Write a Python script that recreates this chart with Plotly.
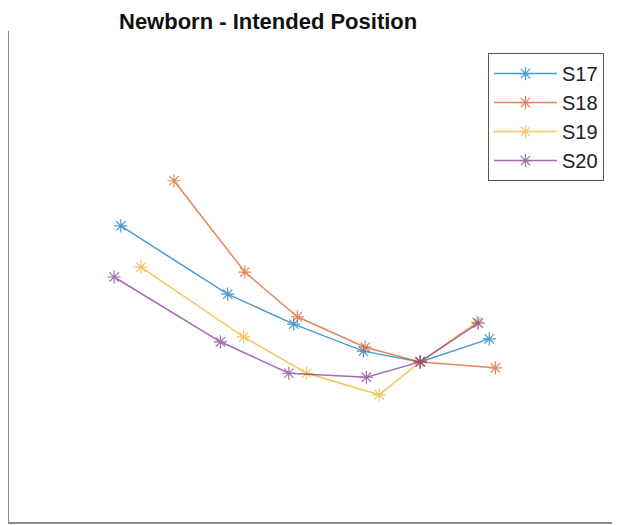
import plotly.graph_objects as go

series_names = ["S17", "S18", "S19", "S20"]
s17_x = [18.3, 35.8, 46.6, 58.0, 67.3, 78.6]
s17_y = [60.3, 46.4, 40.3, 34.8, 32.6, 37.3]
s18_x = [27.0, 38.6, 47.2, 58.3, 67.3, 79.6]
s18_y = [69.5, 50.9, 41.8, 35.6, 32.6, 31.4]
s19_x = [21.6, 38.4, 48.7, 60.6, 67.3, 76.6]
s19_y = [51.9, 37.7, 30.3, 25.9, 32.6, 40.7]
s20_x = [17.2, 34.6, 45.8, 58.5, 67.3, 76.8]
s20_y = [49.9, 36.7, 30.3, 29.5, 32.6, 40.5]

xs = [s17_x, s18_x, s19_x, s20_x]
ys = [s17_y, s18_y, s19_y, s20_y]
colors = ["#0072BD", "#D95319", "#EDB120", "#7E2F8E"]

fig = go.Figure()
for name, x, y, c in zip(series_names, xs, ys, colors):
    fig.add_trace(go.Scatter(
        x=x, y=y, name=name, mode="lines+markers",
        line=dict(color=c, width=1.5),
        marker=dict(symbol="asterisk-open", size=11, color=c, line=dict(color=c, width=1.2)),
        opacity=0.7,
    ))

W, H = 612, 517
fig.update_layout(
    width=W, height=H,
    margin=dict(l=1, r=0, t=23, b=3),
    paper_bgcolor="white", plot_bgcolor="white",
    font=dict(family="Liberation Sans, Arial, sans-serif", color="#222"),
    showlegend=True,
    legend=dict(
        x=479 / 611, y=0.955, xanchor="left", yanchor="top",
        bordercolor="#555", borderwidth=1, bgcolor="white",
        font=dict(size=20, color="#222"), itemwidth=63,
        tracegroupgap=0,
    ),
    annotations=[dict(
        text="<b>Newborn - Intended Position</b>", xref="paper", yref="paper",
        x=(260 - 1) / 611, y=1, yshift=-5, xanchor="center", yanchor="bottom",
        showarrow=False, font=dict(size=22, color="#111"),
    )],
)
fig.update_xaxes(range=[0, 100], showticklabels=False, ticks="", showgrid=False,
                 zeroline=False, showline=True, linecolor="#8c8c8c", linewidth=2, mirror=False)
fig.update_yaxes(range=[0, 100], showticklabels=False, ticks="", showgrid=False,
                 zeroline=False, showline=True, linecolor="#8c8c8c", linewidth=2, mirror=False)

fig.write_html("out.html")
